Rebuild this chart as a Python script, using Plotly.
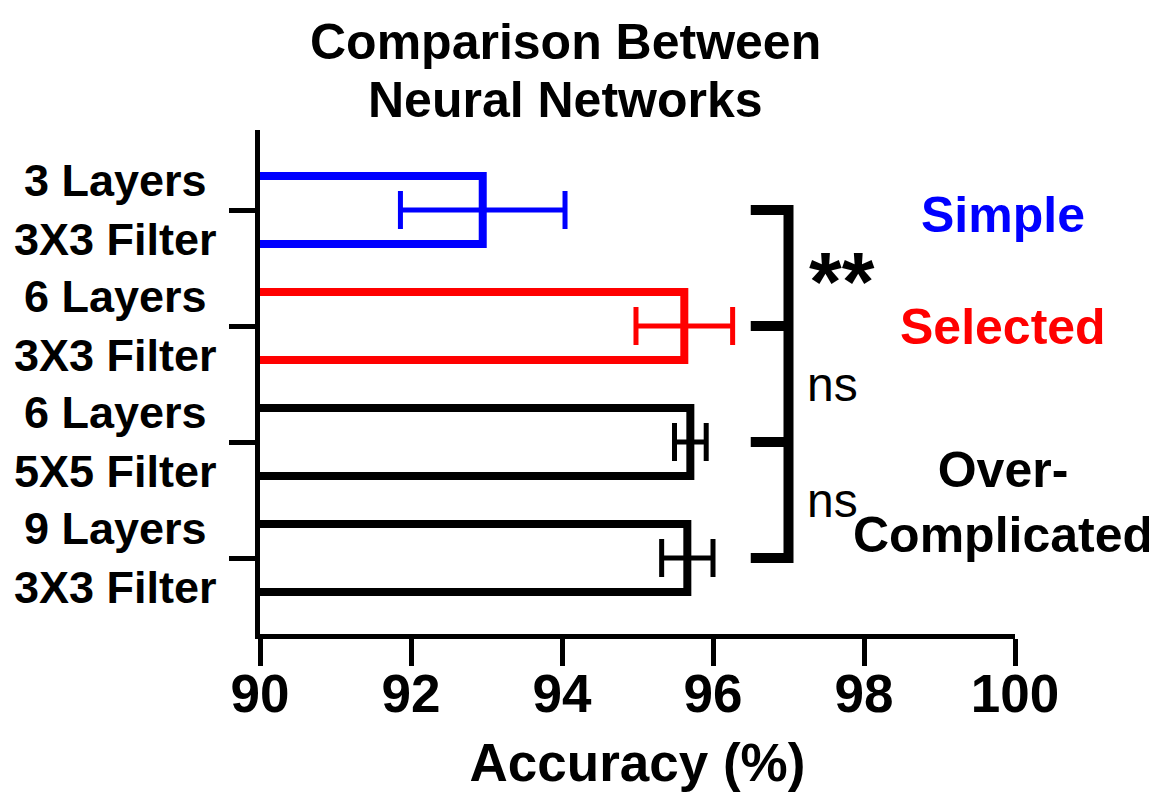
import plotly.graph_objects as go

# ---- data ----
categories = ["3 Layers<br>3X3 Filter", "6 Layers<br>3X3 Filter",
              "6 Layers<br>5X5 Filter", "9 Layers<br>3X3 Filter"]
cat_pos = [0, 1, 2, 3]
accuracy_mean = [92.95, 95.62, 95.70, 95.66]
accuracy_err = [1.09, 0.64, 0.21, 0.34]
bar_colors = ["#0000FF", "#FF0000", "#000000", "#000000"]
x_ticks = [90, 92, 94, 96, 98, 100]

group_labels = ["Simple", "Selected", "Over-<br>Complicated"]
group_label_pos = [0.04, 1.01, 2.52]
group_label_colors = ["#0000FF", "#FF0000", "#000000"]

sig_labels = ["**", "ns", "ns"]
sig_pos = [0.5, 1.5, 2.5]

bracket_x = [96.5, 97.0]

title_lines = ["Comparison Between", "Neural Networks"]
title_line_y = [1.1746, 1.0595]
x_title = "Accuracy (%)"

FONT = "Liberation Sans"

fig = go.Figure()
for i in range(len(categories)):
    fig.add_trace(go.Bar(
        y=[cat_pos[i]], x=[accuracy_mean[i]], orientation="h",
        width=0.586, name=categories[i].replace("<br>", " "),
        marker=dict(color="white", line=dict(color=bar_colors[i], width=8)),
        error_x=dict(type="data", array=[accuracy_err[i]], color=bar_colors[i],
                     thickness=5, width=19),
        showlegend=False,
    ))

annotations = []
# title (two centered lines)
for line, ty in zip(title_lines, title_line_y):
    annotations.append(dict(text=f"<b>{line}</b>", xref="paper", yref="paper",
                            x=0.404, y=ty, xanchor="center", yanchor="middle",
                            align="center", showarrow=False,
                            font=dict(family=FONT, size=50, color="black")))
# y category labels (centered two-line)
for lab, p in zip(categories, cat_pos):
    annotations.append(dict(text=f"<b>{lab}</b>", xref="paper", yref="y",
                            x=-0.192, y=p, xanchor="center", yanchor="middle",
                            align="center", showarrow=False,
                            font=dict(family=FONT, size=45, color="black")))
# group labels on the right
for lab, p, c in zip(group_labels, group_label_pos, group_label_colors):
    annotations.append(dict(text=f"<b>{lab}</b>", xref="paper", yref="y",
                            x=0.984, y=p, xanchor="center", yanchor="middle",
                            align="center", showarrow=False,
                            font=dict(family=FONT, size=50, color=c)))
# significance labels
for lab, p in zip(sig_labels, sig_pos):
    if lab == "**":
        annotations.append(dict(text=f"<b>{lab}</b>", xref="x", yref="y",
                                x=97.25, y=p + 0.12, xanchor="left", yanchor="middle",
                                showarrow=False,
                                font=dict(family=FONT, size=84, color="black")))
    else:
        annotations.append(dict(text=lab, xref="x", yref="y",
                                x=97.22, y=p, xanchor="left", yanchor="middle",
                                showarrow=False,
                                font=dict(family=FONT, size=48, color="black")))

# bracket
bx0, bx1 = bracket_x
shapes = [dict(type="path",
               path=f"M {bx0},{cat_pos[0]} L {bx1},{cat_pos[0]} L {bx1},{cat_pos[-1]} L {bx0},{cat_pos[-1]}",
               xref="x", yref="y", line=dict(color="black", width=10))]
for p in cat_pos[1:-1]:
    shapes.append(dict(type="line", xref="x", yref="y", x0=bx0, x1=bx1, y0=p, y1=p,
                       line=dict(color="black", width=10)))

fig.update_layout(
    width=1157, height=806,
    margin=dict(l=252, r=150, t=122, b=180),
    paper_bgcolor="white", plot_bgcolor="white",
    barmode="overlay",
    xaxis=dict(range=[90, 100], tickvals=x_ticks, ticktext=[str(t) for t in x_ticks],
               showline=True, linewidth=5, linecolor="black",
               ticks="outside", ticklen=27, tickwidth=5, tickcolor="black",
               showgrid=False, zeroline=False, automargin=False,
               ticklabelstandoff=-18,
               tickfont=dict(family=FONT, size=53, color="black", weight="bold"),
               title=dict(text=f"<b>{x_title}</b>", standoff=24,
                          font=dict(family=FONT, size=53, color="black"))),
    yaxis=dict(range=[3.655, -0.69], tickvals=cat_pos, showticklabels=False,
               showline=True, linewidth=5, linecolor="black",
               ticks="outside", ticklen=26, tickwidth=5, tickcolor="black",
               showgrid=False, zeroline=False, automargin=False),
    annotations=annotations,
    shapes=shapes,
)

fig.write_html("out.html")
